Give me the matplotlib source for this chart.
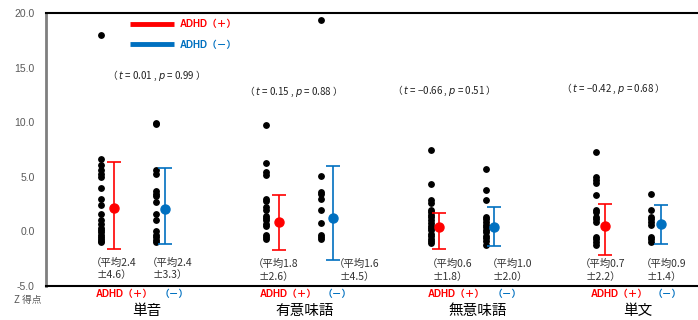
import matplotlib
matplotlib.use("Agg")
import matplotlib.pyplot as plt

plt.rcParams['font.family'] = ['Noto Sans CJK JP', 'DejaVu Sans']

# conditions
groups = ['単音', '有意味語', '無意味語', '単文']

# individual Z scores, ADHD(+) and ADHD(-)
plus_scores = [
    [18.0, 6.6, 6.1, 5.6, 5.3, 5.0, 4.0, 3.0, 2.4, 1.6, 1.0, 0.7, 0.3, 0.1, -0.1, -0.3, -0.5, -0.7, -0.9, -1.0],
    [9.7, 6.3, 5.4, 5.2, 3.0, 2.8, 2.2, 2.0, 1.4, 1.2, 1.0, 0.7, 0.5, -0.3, -0.5, -0.7],
    [7.5, 4.3, 2.9, 2.6, 2.0, 1.8, 1.5, 1.3, 1.0, 0.8, 0.5, 0.3, 0.1, -0.2, -0.4, -0.7, -0.9, -1.1],
    [7.3, 5.0, 4.7, 4.4, 3.3, 2.0, 1.8, 1.3, 1.1, 0.9, -0.5, -0.7, -1.0, -1.2],
]
minus_scores = [
    [9.9, 9.8, 5.6, 5.3, 3.7, 3.4, 3.2, 2.7, 1.6, 1.0, 0.0, -0.3, -0.5, -0.8, -1.0],
    [19.4, 5.1, 3.6, 3.4, 3.0, 2.0, 0.8, -0.3, -0.5, -0.7],
    [5.7, 3.8, 2.9, 1.3, 1.1, 0.9, 0.6, 0.4, 0.1, -0.1, -0.4, -0.6, -0.9, -1.2],
    [3.4, 2.0, 1.3, 1.1, 0.9, 0.6, -0.5, -0.7, -1.0],
]

# plotted mean markers and error bar ends (as drawn)
plus_center = [2.1, 0.86, 0.37, 0.46]
plus_top = [6.4, 3.35, 1.71, 2.53]
plus_bottom = [-1.58, -1.74, -1.64, -2.19]
minus_center = [2.05, 1.25, 0.37, 0.67]
minus_top = [5.8, 5.98, 2.26, 2.38]
minus_bottom = [-1.15, -2.6, -1.33, -1.12]

# labelled statistics
plus_mean = [2.4, 1.8, 0.6, 0.7]
plus_sd = [4.6, 2.6, 1.8, 2.2]
minus_mean = [2.4, 1.6, 1.0, 0.9]
minus_sd = [3.3, 4.5, 2.0, 1.4]
t_vals = ['0.01', '0.15', '−0.66', '−0.42']
p_vals = ['0.99', '0.88', '0.51', '0.68']

RED = '#FF0000'
BLUE = '#0070C0'
GREY = '#595959'
LAT = ['Liberation Sans', 'Noto Sans CJK JP']

fig = plt.figure(figsize=(6.98, 3.2), dpi=100)
W, H = 698, 320
ax = fig.add_axes([46 / W, (H - 286) / H, (W - 46) / W, (286 - 13) / H])
ax.set_xlim(46, 698)
ax.set_ylim(-5, 20)
ax.set_yticks([-5, 0, 5, 10, 15, 20])
ax.set_yticklabels(['%.1f' % v for v in [-5, 0, 5, 10, 15, 20]], family=LAT)
ax.tick_params(axis='y', length=0, labelsize=7.5, colors=GREY, pad=8)
ax.set_xticks([])
ax.spines['right'].set_visible(False)
ax.spines['left'].set_color('#7f7f7f')
ax.spines['left'].set_linewidth(2)
ax.spines['bottom'].set_linewidth(1.5)
ax.spines['top'].set_linewidth(1.5)

base = [100.7 + 165 * i for i in range(len(groups))]
err_off_plus = [13.5, 13, 8.5, 9]
dot_off_minus = 55
err_off_minus = [64.5, 67, 63.5, 65]

for i, b in enumerate(base):
    ax.plot([b] * len(plus_scores[i]), plus_scores[i], 'o', color='black', ms=3.9, clip_on=False)
    ax.plot([b + dot_off_minus] * len(minus_scores[i]), minus_scores[i], 'o', color='black', ms=3.9, clip_on=False)

    xp = b + err_off_plus[i]
    ax.errorbar([xp], [plus_center[i]],
                yerr=[[plus_center[i] - plus_bottom[i]], [plus_top[i] - plus_center[i]]],
                fmt='o', color=RED, ms=6.5, elinewidth=1.2, capsize=5, capthick=1.2)
    xm = b + err_off_minus[i]
    ax.errorbar([xm], [minus_center[i]],
                yerr=[[minus_center[i] - minus_bottom[i]], [minus_top[i] - minus_center[i]]],
                fmt='o', color=BLUE, ms=6.5, elinewidth=1.2, capsize=5, capthick=1.2)

# mean labels
plus_lab_x = [114, 276, 450, 603]
minus_lab_x = [170, 357, 510, 664]
lab_y = [-3.45, -3.6, -3.6, -3.6]
for i in range(len(groups)):
    ax.text(plus_lab_x[i], lab_y[i], '（平均%.1f\n±%.1f）' % (plus_mean[i], plus_sd[i]),
            ha='center', va='center', fontsize=7.5, color='#333333', linespacing=1.35)
    ax.text(minus_lab_x[i], lab_y[i], '（平均%.1f\n±%.1f）' % (minus_mean[i], minus_sd[i]),
            ha='center', va='center', fontsize=7.5, color='#333333', linespacing=1.35)

# t / p annotations
tp_x = [154, 291, 441, 610]
tp_y = [14.2, 12.75, 12.9, 13.0]
for i in range(len(groups)):
    ax.text(tp_x[i], tp_y[i], '（ $t$ = %s , $p$ = %s ）' % (t_vals[i], p_vals[i]),
            ha='center', va='center', fontsize=7, color='#222222',
            family=['Noto Sans CJK JP'])

# legend
ax.plot([130, 174], [19.0, 19.0], color=RED, lw=3.5, solid_capstyle='butt')
ax.plot([130, 174], [17.2, 17.2], color=BLUE, lw=3.5, solid_capstyle='butt')
ax.text(180, 19.0, 'ADHD（＋）', color=RED, fontsize=7, fontweight='bold', va='center', family=LAT)
ax.text(180, 17.1, 'ADHD（－）', color=BLUE, fontsize=7, fontweight='bold', va='center', family=LAT)

# bottom group labels
plus_bot_x = [124, 288, 456, 619]
minus_bot_x = [174, 337, 507, 667]
group_x = [147, 305, 478, 638]
for i, g in enumerate(groups):
    fig.text(plus_bot_x[i] / W, 1 - 294 / H, 'ADHD（＋）', color=RED, fontsize=7,
             fontweight='bold', ha='center', va='center', family=LAT)
    fig.text(minus_bot_x[i] / W, 1 - 294 / H, '（－）', color=BLUE, fontsize=7,
             fontweight='bold', ha='center', va='center', family=LAT)
    fig.text(group_x[i] / W, 1 - 311 / H, g, fontsize=10.5, ha='center', va='center')

fig.text(28 / W, 1 - 300 / H, 'Z 得点', fontsize=7, color=GREY, ha='center', va='center')

fig.savefig('out.png', dpi=100)
